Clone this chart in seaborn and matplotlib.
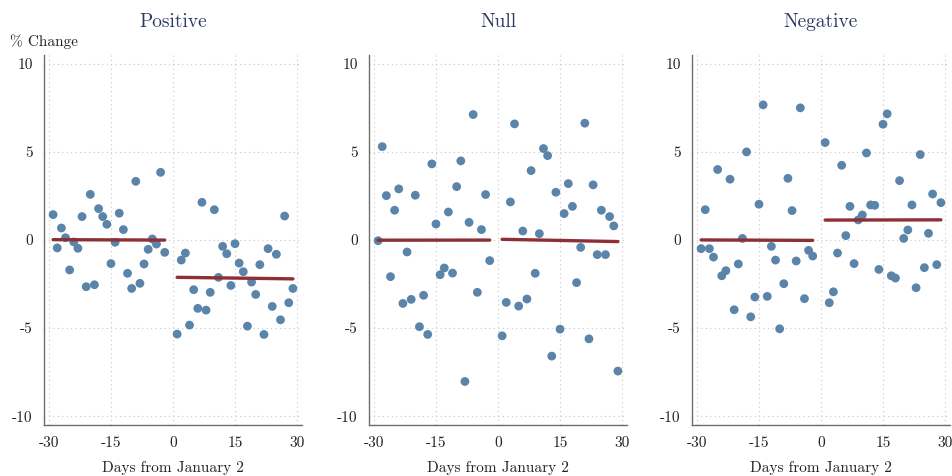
import matplotlib
matplotlib.use("Agg")
import matplotlib.pyplot as plt
import numpy as np
import pandas as pd
import seaborn as sns

days_pre = list(range(-29, -1))
days_post = list(range(1, 30))

positive_pre = [1.44, -0.45, 0.68, 0.13, -1.70, -0.11, -0.47, 1.33, -2.65, 2.59,
                -2.54, 1.78, 1.33, 0.89, -1.34, -0.13, 1.52, 0.59, -1.89, -2.75,
                3.33, -2.46, -1.36, -0.53, 0.06, -0.23, 3.84, -0.70]
positive_post = [-5.34, -1.14, -0.74, -4.83, -2.82, -3.88, 2.14, -3.98, -2.97, 1.72,
                 -2.12, -0.36, -0.78, -2.58, -0.21, -1.31, -1.80, -4.89, -2.39, -3.09,
                 -1.40, -5.36, -0.49, -3.77, -0.81, -4.53, 1.36, -3.56, -2.75]

null_pre = [-0.04, 5.30, 2.52, -2.08, 1.69, 2.90, -3.60, -0.68, -3.37, 2.54,
            -4.92, -3.14, -5.36, 4.32, 0.91, -1.97, -1.59, 1.59, -1.88, 3.03,
            4.49, -8.03, 1.00, 7.12, -2.97, 0.59, 2.58, -1.17]
null_post = [-5.44, -3.54, 2.16, 6.59, -3.75, 0.51, -3.35, 3.94, -1.89, 0.36,
             5.19, 4.79, -6.59, 2.71, -5.06, 1.50, 3.20, 1.91, -2.42, -0.42,
             6.63, -5.61, 3.13, -0.83, 1.69, -0.83, 1.33, 0.80, -7.44]

negative_pre = [-0.49, 1.72, -0.49, -0.97, 4.00, -2.03, -1.74, 3.45, -3.96, -1.36,
                0.09, 5.00, -4.36, -3.24, 2.03, 7.67, -3.20, -0.36, -1.14, -5.04,
                -2.48, 3.50, 1.67, -1.19, 7.50, -3.33, -0.59, -0.91]
negative_post = [5.53, -3.56, -2.94, -0.74, 4.24, 0.25, 1.91, -1.34, 1.14, 1.42,
                 4.94, 1.99, 1.97, -1.67, 6.57, 7.16, -2.03, -2.16, 3.37, 0.09,
                 0.57, 1.99, -2.71, 4.85, -1.57, 0.38, 2.61, -1.40, 2.12]

panels = ["Positive", "Null", "Negative"]
series = [(positive_pre, positive_post), (null_pre, null_post),
          (negative_pre, negative_post)]
x_ticks = [-30, -15, 0, 15, 30]
y_ticks = [-10, -5, 0, 5, 10]

dot_color = "#5b84ab"
line_color = "#8e2f35"
title_color = "#2b3a63"
axis_color = "#6e6e6e"

sns.set_style("white")
plt.rcParams["font.family"] = ["cmr10", "DejaVu Serif"]
plt.rcParams["axes.unicode_minus"] = False
plt.rcParams["axes.formatter.use_mathtext"] = True

fig = plt.figure(figsize=(9.53, 4.76), dpi=100)
lefts = [44, 369, 692]
for i, (name, (pre, post)) in enumerate(zip(panels, series)):
    ax = fig.add_axes([lefts[i] / 953, 51 / 476, 258 / 953, 370 / 476])
    df = pd.DataFrame({"day": days_pre + days_post, "value": pre + post})
    sns.scatterplot(data=df, x="day", y="value", ax=ax, color=dot_color,
                    s=40, edgecolor="none", zorder=3)
    # separate linear fit before and after January 2
    for d, v in [(days_pre, pre), (days_post, post)]:
        sns.regplot(x=np.array(d), y=np.array(v), ax=ax, scatter=False, ci=None,
                    color=line_color, line_kws={"linewidth": 2.4, "zorder": 4})
    ax.set_xlim(-31.2, 31.2)
    ax.set_ylim(-10.5, 10.5)
    ax.set_xticks(x_ticks)
    ax.set_yticks(y_ticks)
    ax.set_xticklabels([str(t) for t in x_ticks])
    ax.set_yticklabels([str(t) for t in y_ticks])
    ax.grid(True, linestyle=(0, (1, 3)), color="#c8c8c8", linewidth=0.8)
    ax.set_axisbelow(True)
    sns.despine(ax=ax)
    for sp in ["left", "bottom"]:
        ax.spines[sp].set_color(axis_color)
        ax.spines[sp].set_linewidth(1.0)
    ax.tick_params(axis="both", direction="out", length=5, width=0.9,
                   color=axis_color, labelsize=11, labelcolor="#222222", pad=3)
    ax.set_xlabel("Days from January 2", fontsize=11, color="#222222", labelpad=8)
    ax.set_ylabel("")
    ax.set_title(name, fontsize=14, color=title_color, pad=20)
    if i == 0:
        ax.text(-0.13, 1.035, "% Change", transform=ax.transAxes, fontsize=11,
                color="#222222", ha="left", va="center")

fig.savefig("out.png", dpi=100)
